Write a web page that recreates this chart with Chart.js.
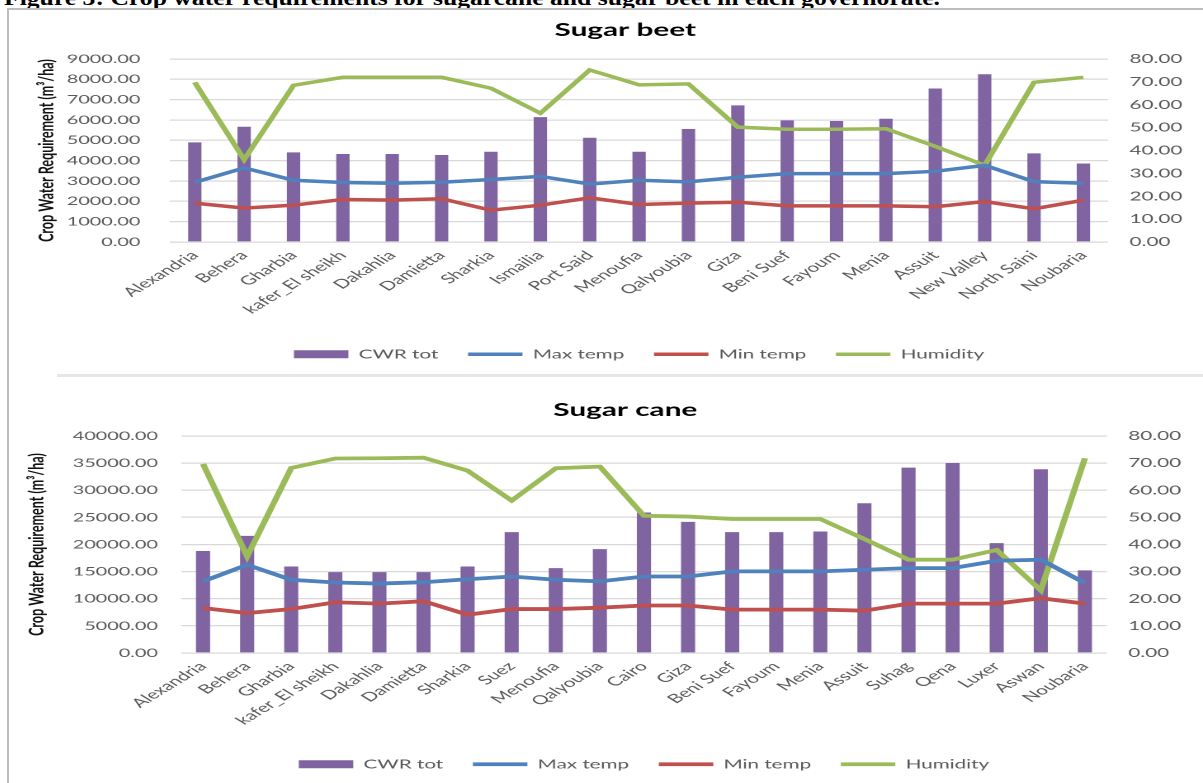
<!DOCTYPE html>
<html>
<head>
<meta charset="utf-8">
<script src="https://cdn.jsdelivr.net/npm/chart.js@4.4.0/dist/chart.umd.min.js"></script>
<style>
  html, body { margin: 0; padding: 0; background: #fff; width: 1203px; height: 783px; overflow: hidden; position: relative; }
  #caption { position: absolute; left: 4px; top: -12px; font: bold 21px "Liberation Serif", serif; line-height: 21px; white-space: nowrap; transform-origin: 0 0; color: #000; }
  #frame { position: absolute; left: 7px; top: 8px; width: 1200px; height: 790px; border-left: 2px solid #bdbdbd; border-top: 2px solid #bdbdbd; }
  #sep { position: absolute; left: 57px; top: 374px; width: 1150px; height: 3px; background: #e6e6e6; }
  canvas { position: absolute; left: 8px; }
</style>
</head>
<body>
<div id="caption">Figure 3: Crop water requirements for sugarcane and sugar beet in each governorate.</div>
<div id="frame"></div>
<div id="sep"></div>
<canvas id="beet" width="724" height="365" style="top:10px;width:1195px;height:365px;"></canvas>
<canvas id="cane" width="724" height="405" style="top:378px;width:1195px;height:405px;"></canvas>
<script>
// ---- Sugar beet ----
const beetGovernorates = ['Alexandria', 'Behera', 'Gharbia', 'kafer_El sheikh', 'Dakahlia', 'Damietta', 'Sharkia',
  'Ismailia', 'Port Said', 'Menoufia', 'Qalyoubia', 'Giza', 'Beni Suef', 'Fayoum', 'Menia', 'Assuit',
  'New Valley', 'North Saini', 'Noubaria'];
const beetCWR = [4900, 5670, 4410, 4330, 4330, 4280, 4440, 6140, 5130, 4440, 5560, 6720, 5980, 5950, 6060, 7550, 8250, 4360, 3860];
const beetMaxTemp = [26.1, 32.4, 27.0, 26.0, 25.7, 26.1, 27.3, 28.7, 25.3, 27.0, 26.3, 28.3, 29.9, 29.9, 29.9, 30.9, 33.5, 26.4, 25.7];
const beetMinTemp = [17.0, 14.8, 16.1, 18.6, 18.3, 18.9, 13.9, 16.1, 19.3, 16.4, 17.0, 17.4, 15.8, 15.8, 15.8, 15.4, 17.7, 14.5, 18.3];
const beetHumidity = [69.8, 36.0, 68.5, 72.0, 72.0, 72.0, 67.2, 56.3, 75.2, 68.7, 69.1, 50.2, 49.3, 49.3, 49.5, 41.8, 33.5, 69.8, 72.0];

// ---- Sugar cane ----
const caneGovernorates = ['Alexandria', 'Behera', 'Gharbia', 'kafer_El sheikh', 'Dakahlia', 'Damietta', 'Sharkia',
  'Suez', 'Menoufia', 'Qalyoubia', 'Cairo', 'Giza', 'Beni Suef', 'Fayoum', 'Menia', 'Assuit',
  'Suhag', 'Qena', 'Luxer', 'Aswan', 'Noubaria'];
const caneCWR = [18800, 21600, 15950, 14900, 14900, 14900, 15950, 22270, 15640, 19140, 25890, 24170, 22270, 22270, 22390, 27600, 34170, 35030, 20250, 33870, 15220];
const caneMaxTemp = [26.4, 32.5, 27.0, 26.0, 25.6, 26.1, 27.2, 28.2, 27.0, 26.4, 28.2, 28.2, 30.1, 30.1, 30.1, 30.7, 31.3, 31.3, 34.0, 34.4, 25.8];
const caneMinTemp = [16.6, 14.7, 16.2, 18.7, 18.2, 19.1, 14.1, 16.2, 16.2, 16.7, 17.5, 17.5, 16.0, 16.0, 16.0, 15.6, 18.2, 18.2, 18.2, 20.2, 18.2];
const caneHumidity = [69.7, 35.6, 68.2, 71.7, 71.8, 72.0, 67.2, 56.2, 68.1, 68.7, 50.6, 50.3, 49.4, 49.4, 49.4, 42.0, 34.4, 34.4, 38.0, 23.1, 71.8];

const seriesNames = ['CWR tot', 'Max temp', 'Min temp', 'Humidity'];
const yAxisTitle = 'Crop Water Requirement (m\u00b3/ha)';

const PURPLE = '#8064A2', BLUE = '#4F81BD', RED = '#C0504D', GREEN = '#9BBB59';
const GRID = '#d9d9d9', TICK = '#595959';
const FONT = 'Lato';

// Fit the figure caption to its line width
(function () {
  const cap = document.getElementById('caption');
  const w = cap.getBoundingClientRect().width;
  cap.style.transform = 'scaleX(' + (936 / w) + ')';
})();

function buildChart(canvasId, o) {
  const lineSet = (label, data, color) => ({
    type: 'line', label, data, borderColor: color, backgroundColor: color,
    borderWidth: o.lineWidth, pointRadius: 0, pointHoverRadius: 0, pointStyle: 'line',
    tension: 0, yAxisID: 'y1', order: 1
  });
  return new Chart(document.getElementById(canvasId), {
    data: {
      labels: o.labels,
      datasets: [
        { type: 'bar', label: seriesNames[0], data: o.cwr, backgroundColor: PURPLE, borderWidth: 0,
          categoryPercentage: 1, barPercentage: o.barPct, pointStyle: 'rect', yAxisID: 'y', order: 2 },
        lineSet(seriesNames[1], o.maxT, BLUE),
        lineSet(seriesNames[2], o.minT, RED),
        lineSet(seriesNames[3], o.hum, GREEN)
      ]
    },
    options: {
      responsive: false,
      devicePixelRatio: 2,
      animation: false,
      events: [],
      layout: { padding: { left: 24, right: 0, top: 0, bottom: o.padBottom } },
      plugins: {
        tooltip: { enabled: false },
        title: {
          display: true, text: o.title, color: '#000',
          font: { family: FONT, size: 18, weight: 'bold' },
          padding: { top: o.titleTop, bottom: o.titleBottom }
        },
        legend: {
          position: 'bottom',
          fullSize: false,
          labels: {
            usePointStyle: true, pointStyleWidth: 33, boxHeight: 8, padding: 18,
            color: TICK, font: { family: FONT, size: 12.5 },
            sort: (a, b) => a.datasetIndex - b.datasetIndex
          }
        }
      },
      scales: {
        x: {
          offset: true,
          grid: { display: false, drawTicks: false },
          border: { display: false },
          ticks: { autoSkip: false, minRotation: 45, maxRotation: 45, padding: 6, color: TICK,
                   font: { family: FONT, size: 12.5 } },
          afterFit: s => { s.height = o.xHeight; }
        },
        y: {
          position: 'left', min: 0, max: o.leftMax,
          grid: { color: GRID, lineWidth: 1.3, drawTicks: false },
          border: { display: false },
          ticks: { stepSize: o.leftStep, padding: o.leftPad, color: TICK, font: { family: FONT, size: 12 },
                   callback: v => Number(v).toFixed(2) },
          title: { display: true, text: yAxisTitle, color: '#111',
                   font: { family: FONT, size: 12.5, weight: 'bold' },
                   padding: { top: o.yTitlePad, bottom: 0 } },
          afterFit: s => { s.width = o.leftWidth; }
        },
        y1: {
          position: 'right', min: 0, max: 80,
          grid: { display: false, drawTicks: false },
          border: { display: false },
          ticks: { stepSize: 10, padding: 13, color: TICK, font: { family: FONT, size: 12.5 },
                   callback: v => Number(v).toFixed(2) },
          afterFit: s => { s.width = o.rightWidth; }
        }
      }
    }
  });
}

buildChart('beet', {
  title: 'Sugar beet', labels: beetGovernorates,
  cwr: beetCWR, maxT: beetMaxTemp, minT: beetMinTemp, hum: beetHumidity,
  leftMax: 9000, leftStep: 1000, barPct: 0.27, lineWidth: 3.5,
  titleTop: 9.2, titleBottom: 18.2, padBottom: 4.5, xHeight: 88,
  leftWidth: 74.2, leftPad: 18, yTitlePad: -8, rightWidth: 57.5
});

buildChart('cane', {
  title: 'Sugar cane', labels: caneGovernorates,
  cwr: caneCWR, maxT: caneMaxTemp, minT: caneMinTemp, hum: caneHumidity,
  leftMax: 40000, leftStep: 5000, barPct: 0.32, lineWidth: 3.8,
  titleTop: 21.2, titleBottom: 15.2, padBottom: 2.5, xHeight: 87,
  leftWidth: 80.8, leftPad: 14, yTitlePad: -14, rightWidth: 58.2
});
</script>
</body>
</html>
